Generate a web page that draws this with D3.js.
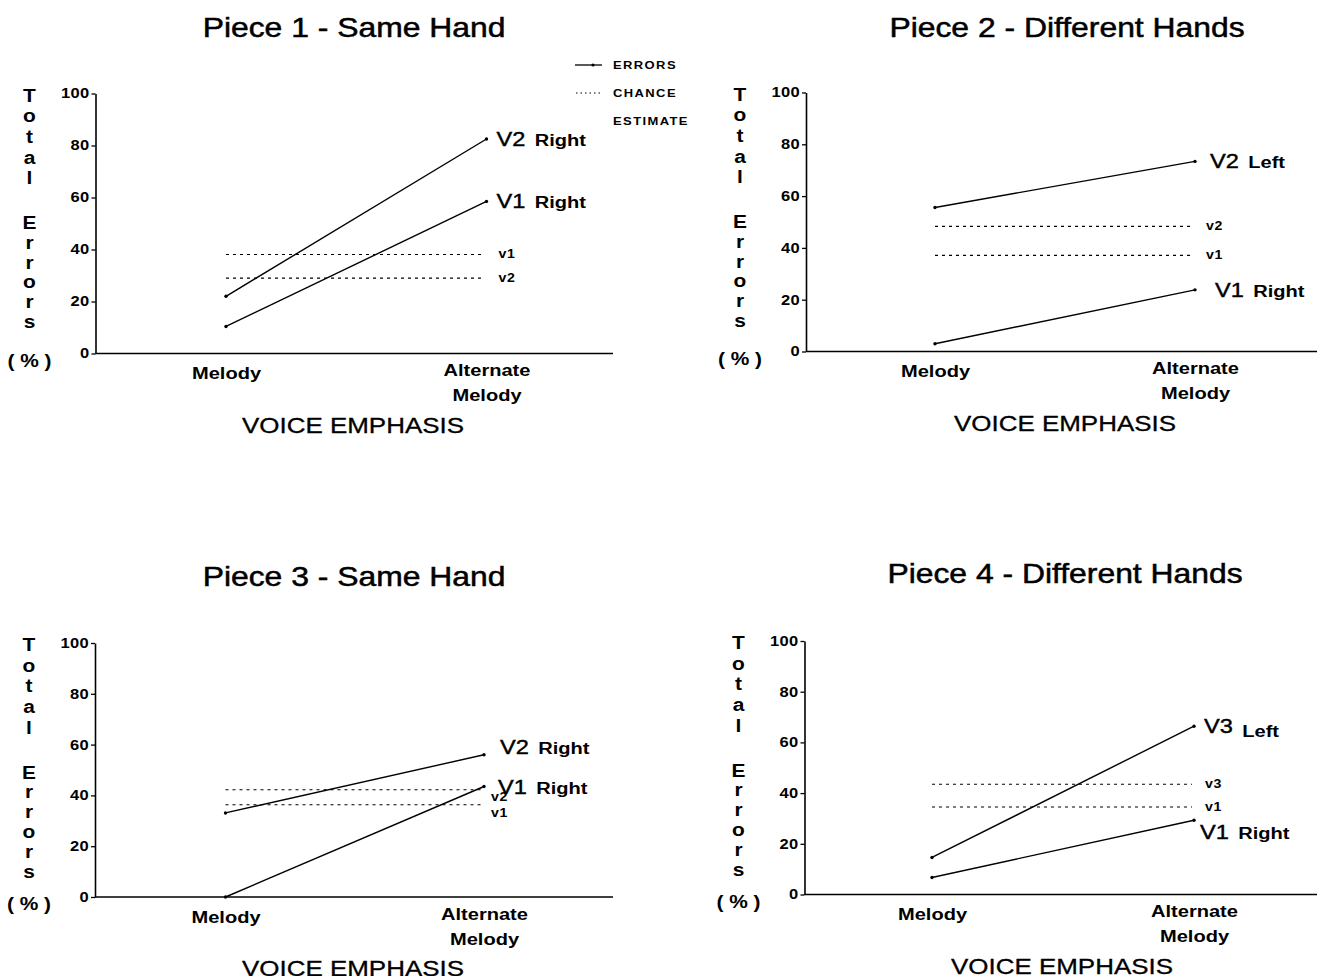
<!DOCTYPE html>
<html lang="en">
<head>
<meta charset="UTF-8">
<title>Voice emphasis errors</title>
<style>
  body { margin: 0; background: #fff; }
  svg text { font-family: "Liberation Sans", Arial, sans-serif; fill: #000; }
</style>
</head>
<body>
<div class="canvas"></div>
<script src="https://cdnjs.cloudflare.com/ajax/libs/d3/7.8.2/d3.min.js"></script>
<script>
// data
const titles = ["Piece 1 - Same Hand", "Piece 2 - Different Hands", "Piece 3 - Same Hand", "Piece 4 - Different Hands"];
const categories = ["Melody", "Alternate Melody"];
const yTicks = [0, 20, 40, 60, 80, 100];
const errorVoices = [["V2", "V1"], ["V2", "V1"], ["V2", "V1"], ["V3", "V1"]];
const errorHands = [["Right", "Right"], ["Left", "Right"], ["Right", "Right"], ["Left", "Right"]];
const errorValues = [
    [[22, 82.5], [10.4, 58.5]],
    [[55.6, 73.4], [3, 23.8]],
    [[33.1, 56], [0, 43.5]],
    [[14.6, 66.4], [6.7, 29.3]]
];
const chanceLabels = [["v1", "v2"], ["v2", "v1"], ["v2", "v1"], ["v3", "v1"]];
const chanceValues = [[38.1, 29], [48.3, 37.1], [42.2, 36.3], [43.5, 34.5]];
const legendItems = ["ERRORS", "CHANCE", "ESTIMATE"];
const yLabelWords = ["Total", "Errors"];

// the lettering of the original is wide, so text is stretched sideways
const SX = 1.18;

// panel placement in the page (pixels)
const layout = [
    { ox: 95.5, y0: 353.5, y100: 93.5, mx: 226, ax: 486.5, end: 613, tx: 354, ty: 37, vx: 353,
      errDx: [10, 10], errDy: [0, 0], chDx: 12, chDy: [0, 0] },
    { ox: 806, y0: 351.5, y100: 92.5, mx: 935, ax: 1195, end: 1317, tx: 1067, ty: 37, vx: 1065,
      errDx: [15, 20], errDy: [0, 0], chDx: 11, chDy: [0, 0] },
    { ox: 95, y0: 897, y100: 643, mx: 225.5, ax: 484, end: 613, tx: 354, ty: 586, vx: 353,
      errDx: [16, 14], errDy: [-8, 0], chDx: 7, chDy: [7, 8] },
    { ox: 804.5, y0: 894.5, y100: 641, mx: 932, ax: 1194, end: 1317, tx: 1065, ty: 583, vx: 1062,
      errDx: [10, 6], errDy: [0, 12], chDx: 11, chDy: [0, 0] }
];

const svg = d3.select(".canvas").append("svg")
    .attr("width", 1317)
    .attr("height", 976);

function stext(parent, x, y, sx = SX) {
    return parent.append("text").attr("transform", `translate(${x},${y}) scale(${sx},1)`);
}

layout.forEach((p, i) => {
    const g = svg.append("g");

    const x = d3.scalePoint().domain(categories).range([p.mx, p.ax]);
    const y = d3.scaleLinear().domain([0, 100]).range([p.y0, p.y100]);

    // title
    stext(g, p.tx, p.ty)
        .attr("text-anchor", "middle")
        .attr("font-size", "27px")
        .attr("stroke", "#000").attr("stroke-width", 0.5)
        .text(titles[i]);

    // y axis
    const yAxis = g.append("g")
        .attr("transform", `translate(${p.ox},0)`)
        .call(d3.axisLeft(y).tickValues(yTicks).tickSize(4).tickPadding(1).tickSizeOuter(0));
    yAxis.select(".domain").attr("stroke-width", 1.6);
    yAxis.selectAll(".tick line").attr("stroke-width", 1.3);
    yAxis.selectAll("text")
        .attr("transform", `scale(${SX},1)`)
        .attr("font-size", "14px").attr("font-weight", "bold")
        .attr("letter-spacing", "0.3px");

    // x axis, line runs across the full plot width
    const xAxis = g.append("g")
        .attr("transform", `translate(0,${p.y0})`)
        .call(d3.axisBottom(x).tickSize(0).tickPadding(0));
    xAxis.select(".domain").attr("d", `M${p.ox},0H${p.end}`).attr("stroke-width", 1.6);
    xAxis.selectAll(".tick text").each(function (d) {
        const t = d3.select(this).text(null)
            .attr("y", null).attr("dy", null)
            .attr("transform", `scale(${SX},1)`)
            .attr("font-size", "17px").attr("font-weight", "bold");
        const words = d.split(" ");
        words.forEach((w, k) => {
            t.append("tspan").attr("x", 0)
                .attr("y", (words.length > 1 ? 23 : 26) + k * 25)
                .text(w);
        });
    });

    // x axis title
    stext(g, p.vx, p.y0 + 79)
        .attr("text-anchor", "middle")
        .attr("font-size", "22px")
        .attr("stroke", "#000").attr("stroke-width", 0.3)
        .text("VOICE EMPHASIS");

    // y axis title, one letter per row
    let row = p.y100 + 8;
    yLabelWords.forEach((w, k) => {
        w.split("").forEach(c => {
            stext(g, p.ox - 66, row, 1.1)
                .attr("text-anchor", "middle")
                .attr("font-size", "19px").attr("font-weight", "bold")
                .text(c);
            row += k === 0 ? 20.7 : 19.8;
        });
        row += 24;
    });
    stext(g, p.ox - 66, p.y0 + 13, 1.1)
        .attr("text-anchor", "middle")
        .attr("font-size", "19px").attr("font-weight", "bold")
        .text("( % )");

    // chance estimates
    chanceValues[i].forEach((v, k) => {
        g.append("line")
            .attr("x1", x(categories[0])).attr("x2", x(categories[1]) - 2)
            .attr("y1", y(v)).attr("y2", y(v))
            .attr("stroke", "#000").attr("stroke-width", 1.1)
            .attr("stroke-dasharray", "3,4");
        stext(g, x(categories[1]) + p.chDx, y(v) + p.chDy[k] + 4)
            .attr("font-size", "12px").attr("font-weight", "bold")
            .attr("letter-spacing", "0.6px")
            .text(chanceLabels[i][k]);
    });

    // errors
    const line = d3.line().x((d, j) => x(categories[j])).y(d => y(d));
    errorValues[i].forEach((vals, k) => {
        g.append("path")
            .attr("d", line(vals))
            .attr("fill", "none").attr("stroke", "#000").attr("stroke-width", 1.4);
        g.selectAll(null).data(vals).enter().append("circle")
            .attr("cx", (d, j) => x(categories[j])).attr("cy", d => y(d))
            .attr("r", 1.7).attr("fill", "#000");
        const lab = stext(g, x(categories[1]) + p.errDx[k], y(vals[1]) + p.errDy[k] + 7);
        lab.append("tspan").attr("font-size", "20px")
            .attr("stroke", "#000").attr("stroke-width", 0.4)
            .text(errorVoices[i][k]);
        lab.append("tspan")
            .attr("font-size", "17px").attr("font-weight", "bold")
            .attr("dx", 8)
            .attr("dy", errorHands[i][k] === "Left" && i === 3 ? 4 : 0)
            .text(errorHands[i][k]);
    });
});

// legend
const legend = svg.append("g").attr("transform", "translate(575,65)");
legend.append("line").attr("x1", 0).attr("x2", 27).attr("y1", 0).attr("y2", 0)
    .attr("stroke", "#000").attr("stroke-width", 1.3);
legend.append("circle").attr("cx", 18).attr("cy", 0).attr("r", 1.6).attr("fill", "#000");
legend.append("line").attr("x1", 1).attr("x2", 27).attr("y1", 28).attr("y2", 28)
    .attr("stroke", "#000").attr("stroke-width", 1).attr("stroke-dasharray", "1.5,3");
legendItems.forEach((d, i) => {
    stext(legend, 38, i * 28 + 4)
        .attr("font-size", "11px").attr("font-weight", "bold")
        .attr("letter-spacing", "1.2px")
        .text(d);
});
</script>
</body>
</html>
